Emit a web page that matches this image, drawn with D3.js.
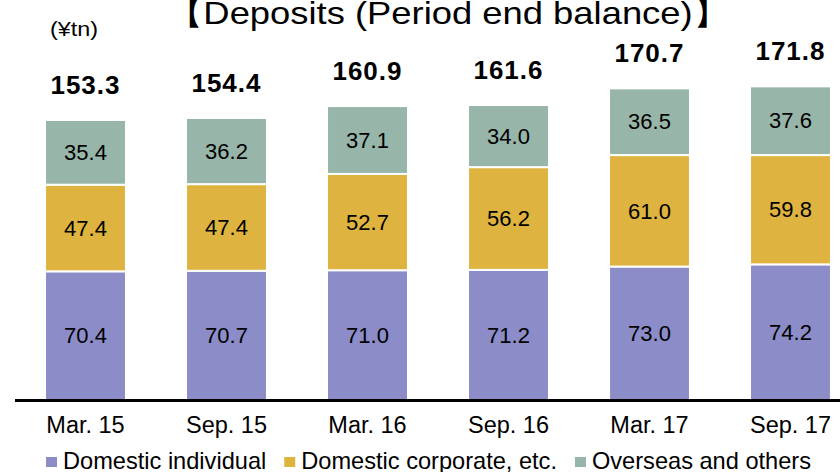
<!DOCTYPE html>
<html>
<head>
<meta charset="utf-8">
<script src="https://cdn.jsdelivr.net/npm/d3@7"></script>
<style>
  body { margin: 0; background: #fff; }
  text { font-family: "Liberation Sans", Arial, sans-serif; fill: #000; }
</style>
</head>
<body>
<script>
// ** Chart data
var periods = ['Mar. 15', 'Sep. 15', 'Mar. 16', 'Sep. 16', 'Mar. 17', 'Sep. 17'];
var individual = [70.4, 70.7, 71.0, 71.2, 73.0, 74.2];
var corporate = [47.4, 47.4, 52.7, 56.2, 61.0, 59.8];
var overseas = [35.4, 36.2, 37.1, 34.0, 36.5, 37.6];
var totals = [153.3, 154.4, 160.9, 161.6, 170.7, 171.8];
var seriesNames = ['Domestic individual', 'Domestic corporate, etc.', 'Overseas and others'];
var colors = ['#8b8cc8', '#deb33f', '#97b5a9'];

var width = 840, height = 472;

var svg = d3.select('body').append('svg')
    .attr('width', width)
    .attr('height', height);

//** Scales
var x = d3.scaleBand()
    .domain(periods)
    .range([15, 861])
    .paddingInner(0.426)
    .paddingOuter(0.213);

var y = d3.scaleLinear()
    .domain([0, 180])
    .range([400, 71]);

//** Stack the series
var rows = periods.map(function(p, i){
  return {period: p, s0: individual[i], s1: corporate[i], s2: overseas[i]};
});
var stacked = d3.stack().keys(['s0', 's1', 's2'])(rows);

var layer = svg.selectAll('g.layer')
    .data(stacked)
  .enter().append('g')
    .attr('class', 'layer')
    .attr('fill', function(d, i){ return colors[i]; });

layer.selectAll('rect')
    .data(function(d){ return d; })
  .enter().append('rect')
    .attr('x', function(d){ return x(d.data.period); })
    .attr('width', x.bandwidth())
    .attr('y', function(d){ return y(d[1]); })
    .attr('height', function(d){ return y(d[0]) - y(d[1]); })
    .attr('stroke', '#fff')
    .attr('stroke-width', 2);

//** Segment labels
layer.selectAll('text')
    .data(function(d){ return d; })
  .enter().append('text')
    .attr('x', function(d){ return x(d.data.period) + x.bandwidth() / 2; })
    .attr('y', function(d){ return (y(d[0]) + y(d[1])) / 2; })
    .attr('dy', '0.35em')
    .attr('text-anchor', 'middle')
    .style('font-size', '22px')
    .text(function(d){ return (d[1] - d[0]).toFixed(1); });

//** Totals above bars
svg.selectAll('text.total')
    .data(totals)
  .enter().append('text')
    .attr('class', 'total')
    .attr('x', function(d, i){ return x(periods[i]) + x.bandwidth() / 2; })
    .attr('y', function(d){ return y(d) - 26; })
    .attr('text-anchor', 'middle')
    .style('font-size', '26px')
    .style('font-weight', 'bold')
    .style('letter-spacing', '1px')
    .text(function(d){ return d.toFixed(1); });

//** X axis
var xAxis = svg.append('g')
    .attr('transform', 'translate(0,400)')
    .call(d3.axisBottom(x).tickSize(0).tickPadding(16));
xAxis.select('.domain')
    .attr('d', 'M15,0.5H840')
    .attr('stroke', '#000')
    .attr('stroke-width', 3);
xAxis.selectAll('text')
    .style('font-family', '"Liberation Sans", Arial, sans-serif')
    .style('font-size', '23.5px')
    .attr('fill', '#000');

//** Title and unit (stretched wide like the slide)
svg.append('text')
    .attr('x', 167)
    .attr('y', 24)
    .attr('textLength', 562)
    .attr('lengthAdjust', 'spacingAndGlyphs')
    .style('font-size', '32px')
    .text('【Deposits (Period end balance)】');

svg.append('text')
    .attr('x', 50)
    .attr('y', 36)
    .attr('textLength', 48)
    .attr('lengthAdjust', 'spacingAndGlyphs')
    .style('font-size', '20px')
    .text('(¥tn)');

//** Legend
var lx = 46;
seriesNames.forEach(function(name, i){
  svg.append('rect')
      .attr('x', lx)
      .attr('y', 457)
      .attr('width', 11)
      .attr('height', 10)
      .attr('fill', colors[i]);
  var t = svg.append('text')
      .attr('x', lx + 17)
      .attr('y', 469)
      .style('font-size', '23.6px')
      .text(name);
  lx = lx + 17 + t.node().getComputedTextLength() + 18;
});
</script>
</body>
</html>
